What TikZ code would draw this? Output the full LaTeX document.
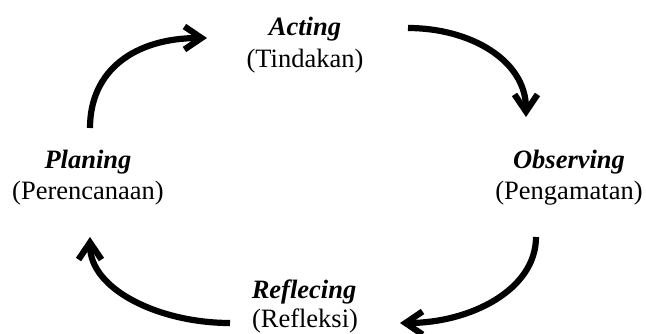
\documentclass[tikz,border=0pt]{standalone}
\usepackage{fontspec}
\setmainfont{Liberation Serif}
\usetikzlibrary{arrows.meta}
\begin{document}
\begin{tikzpicture}[x=1pt,y=-1pt,
  title/.style={anchor=base,inner sep=0pt,font=\fontsize{26.5}{30}\selectfont\bfseries\itshape},
  sub/.style={anchor=base,inner sep=0pt,font=\fontsize{26.5}{30}\selectfont},
  cyc/.style={line width=6.2pt,-{Straight Barb[length=17pt,width=23pt,line width=6.2pt]}}]
\useasboundingbox (0,0) rectangle (646,333);
\node[title] (acting) at (305,35) {Acting};
\node[sub] (actingsub) at (305,67) {(Tindakan)};
\node[title] (planing) at (88,168) {Planing};
\node[sub] (planingsub) at (88,199) {(Perencanaan)};
\node[title] (observing) at (569,168) {Observing};
\node[sub] (observingsub) at (569,199) {(Pengamatan)};
\node[title] (reflecing) at (304,298) {Reflecing};
\node[sub] (reflecingsub) at (305,327) {(Refleksi)};
\coordinate (p1) at (90,128);
\coordinate (a1) at (207,38);
\coordinate (a2) at (408,28);
\coordinate (o1) at (526,117);
\coordinate (o2) at (536,237);
\coordinate (r1) at (400,323);
\coordinate (r2) at (230,323);
\coordinate (p2) at (90,237);
\draw[cyc] (p1) .. controls (90,70) and (135,38) .. (a1);
\draw[cyc] (a2) .. controls (470,28) and (526,60) .. (o1);
\draw[cyc] (o2) .. controls (536,290) and (470,323) .. (r1);
\draw[cyc] (r2) .. controls (160,323) and (90,290) .. (p2);
\end{tikzpicture}
\end{document}
